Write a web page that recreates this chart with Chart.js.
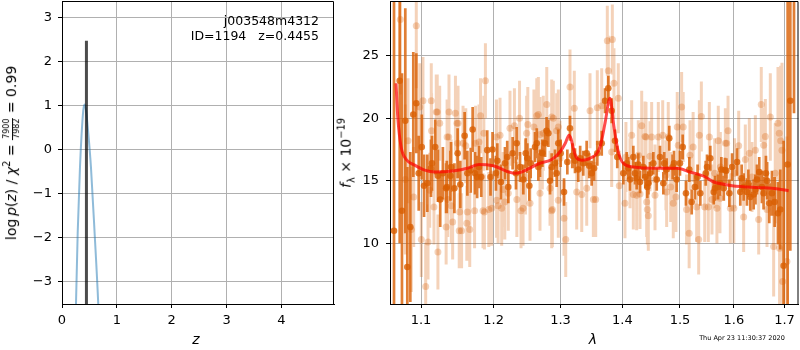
<!DOCTYPE html>
<html>
<head>
<meta charset="utf-8">
<script src="https://cdn.jsdelivr.net/npm/chart.js@4.4.1/dist/chart.umd.min.js"></script>
<style>
  body { margin: 0; background: #fff; font-family: "DejaVu Sans", sans-serif; }
  #wrap { position: relative; width: 800px; height: 350px; overflow: hidden; }
  canvas { position: absolute; top: 0; }
  .lbl { position: absolute; color: #000; white-space: nowrap; line-height: 1.2; }
  .c { transform: translate(-50%, -50%); }
  .rot { transform: translate(-50%, -50%) rotate(-90deg); }
  sup, sub { font-size: 70%; line-height: 0; }
  .frac { display: inline-block; vertical-align: middle; font-size: 8px; text-align: center; line-height: 1.05; }
  .frac span { display: block; padding: 0 1px; }
  .frac span:first-child { border-bottom: 1px solid #000; }
</style>
</head>
<body>
<div id="wrap">
  <canvas id="pzChart" width="340" height="350" style="left:0"></canvas>
  <canvas id="specChart" width="460" height="350" style="left:340px"></canvas>

  <div class="lbl rot" style="left:12px;top:153px;font-size:14px">log&thinsp;<i>p</i>(<i>z</i>) / <i>χ</i><sup>2</sup> = <span class="frac"><span>7900</span><span>7982</span></span> = 0.99</div>
  <div class="lbl c" style="left:196px;top:339px;font-size:14px"><i>z</i></div>
  <div class="lbl" style="right:481px;top:12.5px;font-size:12.5px;line-height:15px;text-align:right">j003548m4312<br>ID=1194&nbsp;&nbsp;&nbsp;z=0.4455</div>

  <div class="lbl rot" style="left:346px;top:153px;font-size:14px"><i>f</i><sub>λ</sub> × 10<sup>−19</sup></div>
  <div class="lbl c" style="left:593px;top:339px;font-size:14px"><i>λ</i></div>
  <div class="lbl c" style="left:742px;top:339px;font-size:6.5px">Thu Apr 23 11:30:37 2020</div>
</div>

<script>
// p(z) panel
const pzGrid = [0.22, 0.255, 0.286, 0.328, 0.358, 0.388, 0.41, 0.437, 0.48, 0.528, 0.595, 0.661, 0.70];
const logPz = [-6.0, -3.5, -1.9, -0.4, 0.36, 0.89, 1.02, 0.9, 0.36, -0.4, -1.9, -3.5, -4.8];
const zBest = 0.4455;
const zLineTop = 2.47;
const zTicks = [0, 1, 2, 3, 4];
const pzTicks = [-3, -2, -1, 0, 1, 2, 3];

// spectrum panel: model
const modelWave = [1.0676, 1.0698, 1.0741, 1.0808, 1.0917, 1.1049, 1.1181, 1.1449, 1.1628, 1.1791, 1.1991, 1.2310,
  1.2685, 1.2864, 1.2992, 1.3075, 1.3133, 1.3244, 1.3335, 1.3468, 1.3630, 1.3712, 1.3794, 1.3860, 1.3932, 1.4016,
  1.4185, 1.4588, 1.4940, 1.5181, 1.5463, 1.5619, 1.5713, 1.5966, 1.6483, 1.6747, 1.7085];
const modelFlux = [22.8, 20.1, 17.7, 16.7, 16.25, 15.85, 15.7, 15.8, 16.0, 16.3, 16.2, 15.6,
  16.4, 16.7, 17.3, 18.0, 18.65, 16.9, 16.65, 16.8, 17.7, 19.6, 21.6, 19.3, 17.3, 16.4,
  16.1, 16.0, 16.0, 15.7, 15.3, 14.9, 14.8, 14.6, 14.45, 14.4, 14.2];

// spectrum panel: first grism (dark), 10 per line
const darkWave = [
  1.0650, 1.0723, 1.0752, 1.0795, 1.0821, 1.0860, 1.0899, 1.0938, 1.0970, 1.1010,
  1.1040, 1.1083, 1.1132, 1.1145, 1.1189, 1.1225, 1.1256, 1.1292, 1.1336, 1.1345,
  1.1394, 1.1403, 1.1449, 1.1493, 1.1530, 1.1590, 1.1628, 1.1675, 1.1702, 1.1735,
  1.1765, 1.1791, 1.1823, 1.1908, 1.1955, 1.1984, 1.2033, 1.2053, 1.2105, 1.2164,
  1.2197, 1.2212, 1.2276, 1.2325, 1.2336, 1.2385, 1.2434, 1.2470, 1.2494, 1.2524,
  1.2544, 1.2610, 1.2636, 1.2660, 1.2685, 1.2721, 1.2762, 1.2785, 1.2813, 1.2838,
  1.2864, 1.2915, 1.2941, 1.2966, 1.3003, 1.3055, 1.3107, 1.3149, 1.3185, 1.3228,
  1.3280, 1.3310, 1.3360, 1.3414, 1.3455, 1.3495, 1.3533, 1.3586, 1.3658, 1.3712,
  1.3766, 1.3822, 1.3877, 1.3915, 1.4016, 1.4073, 1.4100, 1.4129, 1.4185, 1.4214,
  1.4242, 1.4270, 1.4299, 1.4356, 1.4390, 1.4425, 1.4443, 1.4471, 1.4529, 1.4588,
  1.4645, 1.4704, 1.4720, 1.4763, 1.4809, 1.4869, 1.4893, 1.4940, 1.5000, 1.5049,
  1.5108, 1.5169, 1.5212, 1.5270, 1.5320, 1.5370, 1.5470, 1.5494, 1.5555, 1.5619,
  1.5643, 1.5700, 1.5736, 1.5762, 1.5808, 1.5831, 1.5857, 1.5914, 1.5966, 1.6061,
  1.6124, 1.6150, 1.6189, 1.6253, 1.6280, 1.6318, 1.6384, 1.6420, 1.6449, 1.6494,
  1.6547, 1.6580, 1.6627, 1.6650, 1.6693, 1.6747, 1.6801, 1.6868, 1.6915, 1.6983,
  1.7065, 1.7119, 1.7195];
const darkFlux = [
  11.0, 23.0, 12.6, 19.8, 8.1, 11.3, 20.3, 21.2, 15.6, 17.7,
  14.6, 14.8, 16.0, 16.4, 17.7, 15.4, 13.5, 15.6, 14.4, 14.5,
  15.4, 16.1, 14.4, 17.2, 14.7, 18.6, 15.6, 15.85, 19.1, 15.6,
  15.3, 16.1, 15.3, 17.45, 15.3, 17.5, 15.6, 16.6, 14.9, 16.4,
  16.9, 14.5, 17.2, 15.6, 18.0, 16.1, 15.1, 17.2, 16.8, 14.6,
  16.4, 17.7, 18.0, 16.1, 16.4, 17.2, 18.0, 19.0, 18.8, 15.0,
  16.1, 16.4, 15.6, 18.0, 17.2, 14.1, 16.5, 19.2, 17.0, 16.6,
  15.9, 16.8, 16.4, 17.2, 16.2, 15.6, 16.0, 17.2, 18.0, 21.4,
  22.4, 20.6, 18.2, 16.9, 15.6, 16.4, 16.0, 15.1, 16.9, 15.6,
  15.2, 16.3, 14.9, 16.1, 15.3, 14.5, 14.8, 15.6, 16.4, 15.1,
  16.9, 14.8, 16.4, 15.9, 18.4, 16.1, 16.4, 15.1, 16.4, 17.7,
  14.0, 15.9, 13.3, 14.5, 15.3, 14.0, 15.6, 16.1, 16.8, 14.1,
  14.4, 14.5, 14.8, 15.9, 14.4, 15.85, 15.8, 14.0, 16.1, 16.5,
  14.1, 15.2, 14.5, 14.1, 14.8, 13.7, 13.9, 14.3, 15.1, 15.7,
  14.5, 14.0, 15.6, 15.0, 13.2, 14.0, 13.3, 12.4, 12.7, 8.2,
  16.3, 21.4, 33.0];
const darkErr = [
  20, 13, 11, 9, 8, 6, 5, 4, 3, 2.6,
  2.5, 2.3, 2.3, 2.2, 2.2, 2.1, 2.2, 2.1, 2.0, 2.1,
  2.0, 2.0, 2.0, 2.0, 1.9, 1.9, 1.8, 1.8, 1.8, 1.7,
  1.7, 1.7, 1.6, 1.6, 1.5, 1.4, 1.4, 1.4, 1.4, 1.3,
  1.3, 1.3, 1.3, 1.3, 1.3, 1.2, 1.2, 1.2, 1.2, 1.2,
  1.2, 1.2, 1.2, 1.1, 1.1, 1.1, 1.1, 1.1, 1.1, 1.1,
  1.1, 1.1, 1.1, 1.1, 1.1, 1.1, 1.0, 1.0, 1.0, 1.0,
  1.0, 1.0, 1.0, 1.0, 1.0, 1.0, 1.0, 1.0, 1.0, 1.0,
  1.0, 1.0, 0.9, 0.9, 0.9, 0.9, 0.9, 0.9, 0.9, 0.9,
  0.9, 0.9, 0.9, 0.9, 0.9, 0.9, 0.9, 0.9, 0.9, 0.9,
  0.9, 0.9, 0.9, 0.9, 1.0, 1.0, 1.0, 1.0, 1.0, 1.0,
  1.0, 1.0, 1.0, 1.0, 1.0, 1.0, 1.0, 1.0, 1.0, 1.0,
  1.0, 1.0, 1.0, 1.0, 1.0, 1.0, 1.0, 1.1, 1.1, 1.1,
  1.1, 1.1, 1.1, 1.1, 1.1, 1.1, 1.2, 1.2, 1.2, 1.2,
  1.3, 1.3, 1.4, 1.5, 1.6, 1.8, 2.0, 2.5, 3.2, 10,
  14, 12, 12.6];

// spectrum panel: second grism (light)
const lightWave = [1.0731, 1.0795, 1.0830, 1.0873, 1.0904, 1.0938, 1.0983, 1.1004, 1.1026, 1.1062, 1.1093, 1.1136,
  1.1140, 1.1216, 1.1225, 1.1249, 1.1336, 1.1349, 1.1358, 1.1375, 1.1403, 1.1425, 1.1463, 1.1484, 1.1493, 1.1515,
  1.1548, 1.1606, 1.1620, 1.1628, 1.1661, 1.1729, 1.1743, 1.1813, 1.1860, 1.1868, 1.1882, 1.1930, 1.1972, 1.2040,
  1.2064, 1.2137, 1.2161, 1.2237, 1.2302, 1.2338, 1.2378, 1.2400, 1.2430, 1.2466, 1.2501, 1.2593, 1.2660, 1.2685,
  1.2720, 1.2788, 1.2838, 1.2864, 1.2874, 1.2966, 1.2992, 1.3055, 1.3082, 1.3149, 1.3217, 1.3255, 1.3335, 1.3415,
  1.3468, 1.3522, 1.3560, 1.3586, 1.3658, 1.3750, 1.3766, 1.3822, 1.3833, 1.3860, 1.3932, 1.3948, 1.4044, 1.4060,
  1.4129, 1.4157, 1.4185, 1.4299, 1.4328, 1.4402, 1.4425, 1.4442, 1.4500, 1.4558, 1.4616, 1.4693, 1.4750, 1.4791,
  1.4834, 1.4928, 1.4951, 1.5030, 1.5058, 1.5119, 1.5166, 1.5238, 1.5340, 1.5352, 1.5389, 1.5451, 1.5537, 1.5586,
  1.5637, 1.5679, 1.5743, 1.5838, 1.5889, 1.5933, 1.6015, 1.6093, 1.6189, 1.6221, 1.6299, 1.6351, 1.6417, 1.6483,
  1.6534, 1.6582, 1.6615, 1.6648, 1.6714, 1.6781, 1.6813, 1.6868, 1.6894, 1.6900, 1.6922, 1.6949, 1.6963, 1.7050,
  // second reading pass
  1.1115, 1.1172, 1.1203, 1.1371, 1.1407, 1.1499, 1.1522, 1.1568, 1.1791, 1.1848, 1.2043, 1.2092, 1.2116,
  1.2212, 1.2484, 1.2534, 1.2636, 1.2685, 1.2735, 1.2864, 1.2889, 1.2941, 1.2966, 1.4242, 1.4270, 1.4385,
  1.4414, 1.4471, 1.4558, 1.4763, 1.4880, 1.4970, 1.5181, 1.5303, 1.5518, 1.5704, 1.5736, 1.5863, 1.6000];
const lightFlux = [27.9, 15.1, 18.2, 11.1, 13.7, 27.4, 20.9, 10.3, 21.4, 6.55, 10.1, 21.4,
  19.0, 20.5, 9.3, 19.6, 11.3, 18.5, 13.5, 20.5, 15.3, 11.7, 20.4, 19.6, 18.0, 11.0,
  11.0, 17.8, 11.6, 12.5, 11.1, 12.6, 18.0, 20.2, 18.8, 12.5, 23.0, 12.7, 12.8, 18.5,
  13.0, 14.3, 13.3, 19.2, 19.4, 13.5, 20.0, 12.6, 12.8, 15.3, 19.5, 19.3, 20.3, 18.7,
  17.3, 21.1, 14.4, 20.1, 12.7, 19.3, 16.8, 12.0, 10.3, 22.5, 20.8, 14.1, 13.9, 14.4,
  20.6, 13.5, 13.5, 20.85, 21.0, 26.2, 23.8, 17.3, 26.3, 22.8, 21.6, 14.6, 13.2, 16.9,
  15.6, 18.65, 13.9, 13.95, 19.4, 18.5, 12.7, 12.2, 18.5, 15.1, 18.5, 18.65, 15.45, 18.5,
  14.5, 13.7, 19.3, 20.9, 19.3, 12.7, 10.8, 17.7, 10.3, 18.65, 20.15, 12.9, 18.5, 13.5,
  15.6, 12.8, 16.1, 18.0, 19.0, 12.8, 15.6, 17.8, 12.1, 16.7, 17.2, 15.3, 17.45, 11.9,
  21.1, 17.85, 18.55, 12.7, 20.1, 9.75, 15.6, 19.6, 18.8, 9.6, 18.2, 17.45, 6.95, 8.55,
  // second reading pass
  14.25, 12.9, 20.5, 18.5, 13.0, 19.6, 12.5, 18.0, 18.1, 12.6, 13.45, 18.65, 12.8,
  14.0, 18.8, 13.2, 20.2, 14.0, 18.8, 12.6, 20.0, 19.0, 13.45, 13.85, 17.05, 18.55,
  13.3, 16.96, 13.85, 14.1, 13.2, 17.85, 17.05, 12.9, 12.9, 18.2, 13.6, 18.0, 12.8];
const lightErr = [6, 6, 5, 5, 4, 5, 3.5, 3, 3.5, 3.5, 3, 3,
  3, 3, 3, 3, 3, 3, 3, 3, 3, 3, 3, 3, 3, 3,
  3, 3, 3, 3, 3, 3, 3, 3, 3, 3, 3, 3, 3, 3,
  3, 3, 3, 3, 3, 3, 3, 3, 3, 3, 3, 3, 3, 3,
  3, 3, 3, 3, 3, 3, 3, 3, 3, 3, 3, 3, 3, 3,
  3, 3, 3, 3, 3, 2.8, 2.8, 2.8, 2.8, 2.8, 2.8, 2.8, 2.8, 2.8,
  2.8, 2.8, 2.8, 2.8, 2.8, 2.8, 2.8, 2.8, 2.8, 2.8, 2.8, 2.8, 2.8, 2.8,
  2.8, 2.8, 2.8, 2.8, 2.8, 2.8, 2.8, 2.8, 2.8, 2.8, 2.8, 2.8, 2.8, 2.8,
  2.8, 2.8, 2.8, 2.8, 2.8, 2.8, 2.8, 2.8, 2.8, 2.8, 2.8, 2.8, 2.8, 2.8,
  3, 3, 3, 3, 3.5, 4, 4, 4.5, 5, 6, 6, 7, 8, 10,
  // second reading pass
  3, 3, 3, 3, 3, 3, 3, 3, 3, 3, 3, 3, 3,
  3, 3, 3, 3, 3, 3, 3, 3, 3, 3, 2.8, 2.8, 2.8,
  2.8, 2.8, 2.8, 2.8, 2.8, 2.8, 2.8, 2.8, 2.8, 2.8, 2.8, 2.8, 2.8];
const waveTicks = [1.1, 1.2, 1.3, 1.4, 1.5, 1.6, 1.7];
const fluxTicks = [10, 15, 20, 25];

const gridColor = '#b0b0b0';
const darkColor = 'rgba(217, 95, 2, 0.8)';
const lightColor = 'rgba(217, 95, 2, 0.28)';

Chart.defaults.font.family = '"DejaVu Sans", sans-serif';
Chart.defaults.font.size = 13;
Chart.defaults.color = '#000';

// top and right spines (left/bottom come from the axis borders)
const frame = {
    id: 'frame',
    afterDatasetsDraw(chart) {
        const { ctx, chartArea: a } = chart;
        ctx.save();
        ctx.strokeStyle = '#000';
        ctx.lineWidth = 1;
        ctx.beginPath();
        ctx.moveTo(a.left, a.top + 0.5);
        ctx.lineTo(a.right - 0.5, a.top + 0.5);
        ctx.lineTo(a.right - 0.5, a.bottom);
        ctx.stroke();
        ctx.restore();
    }
};

function axis(type, min, max, tickVals, fmt, size, pad) {
    return {
        type: type,
        min: min,
        max: max,
        afterBuildTicks: (scale) => { scale.ticks = tickVals.map(v => ({ value: v })); },
        afterFit: (scale) => {
            if (scale.isHorizontal()) scale.height = size; else scale.width = size;
            scale.paddingTop = 0; scale.paddingBottom = 0;
            scale.paddingLeft = 0; scale.paddingRight = 0;
        },
        ticks: { callback: fmt, autoSkip: false, maxRotation: 0, padding: pad, color: '#000' },
        grid: { color: gridColor, lineWidth: 1, tickColor: '#000', tickLength: 4 },
        border: { color: '#000', width: 1 }
    };
}

const minus = v => String(v).replace('-', '\u2212');

function errSegments(wave, flux, err) {
    const pts = [];
    wave.forEach((w, i) => {
        pts.push({ x: w, y: flux[i] - err[i] }, { x: w, y: flux[i] + err[i] }, { x: w, y: null });
    });
    return pts;
}

const baseOpts = {
    responsive: false,
    animation: false,
    events: [],
    plugins: { legend: { display: false }, tooltip: { enabled: false } }
};

new Chart(document.getElementById('pzChart'), {
    type: 'line',
    data: {
        datasets: [
            {
                data: [{ x: zBest, y: -4 }, { x: zBest, y: zLineTop }],
                borderColor: 'rgba(0, 0, 0, 0.7)',
                borderWidth: 3,
                pointRadius: 0,
                order: 0
            },
            {
                data: pzGrid.map((z, i) => ({ x: z, y: logPz[i] })),
                borderColor: 'rgba(31, 119, 180, 0.5)',
                borderWidth: 2,
                pointRadius: 0,
                cubicInterpolationMode: 'monotone',
                order: 1
            }
        ]
    },
    options: {
        ...baseOpts,
        layout: { autoPadding: false, padding: { top: 1, right: 6, left: 0, bottom: 0 } },
        scales: {
            x: axis('linear', 0, 4.96, zTicks, v => String(v), 46, 5),
            y: axis('linear', -3.506, 3.37, pzTicks, minus, 62, 6)
        }
    },
    plugins: [frame]
});

new Chart(document.getElementById('specChart'), {
    type: 'line',
    data: {
        datasets: [
            {
                data: modelWave.map((w, i) => ({ x: w, y: modelFlux[i] })),
                borderColor: 'rgba(255, 0, 0, 0.7)',
                borderWidth: 3,
                pointRadius: 0,
                cubicInterpolationMode: 'monotone',
                order: 0
            },
            {
                data: darkWave.map((w, i) => ({ x: w, y: darkFlux[i] })),
                showLine: false,
                pointRadius: 3.3,
                pointBorderWidth: 0,
                pointBackgroundColor: darkColor,
                order: 1
            },
            {
                data: errSegments(darkWave, darkFlux, darkErr),
                borderColor: darkColor,
                borderWidth: 2.7,
                pointRadius: 0,
                spanGaps: false,
                order: 2
            },
            {
                data: lightWave.map((w, i) => ({ x: w, y: lightFlux[i] })),
                showLine: false,
                pointRadius: 3.5,
                pointBorderWidth: 0,
                pointBackgroundColor: lightColor,
                order: 3
            },
            {
                data: errSegments(lightWave, lightFlux, lightErr),
                borderColor: lightColor,
                borderWidth: 3,
                pointRadius: 0,
                spanGaps: false,
                order: 4
            }
        ]
    },
    options: {
        ...baseOpts,
        layout: { autoPadding: false, padding: { top: 1, right: 1.5, left: 0, bottom: 0 } },
        scales: {
            x: axis('logarithmic', 1.0599, 1.7288, waveTicks, v => v.toFixed(1), 46, 5),
            y: axis('linear', 5.14, 29.38, fluxTicks, v => String(v), 50, 7)
        }
    },
    plugins: [frame]
});
</script>
</body>
</html>
